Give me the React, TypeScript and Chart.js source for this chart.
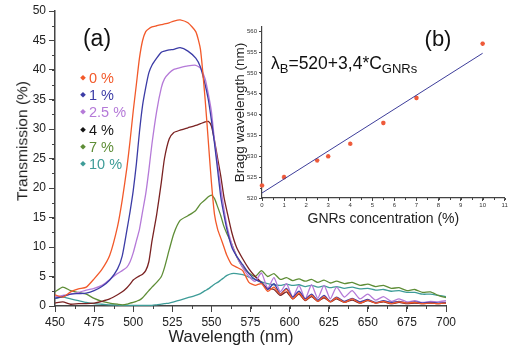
import React, { useEffect, useRef } from "react";
import { Chart, registerables } from "chart.js";

Chart.register(...registerables);

// ---------- data (main panel a) ----------
const wavelength = [450,455,460,465,470,475,480,485,490,493,496,498,500,502,504,506,508,510,512,515,518,520,523,526,530,535,540,543,546,548,550,552,554,556,558,560,563,566,570,574,578,582,586,590,594,598,602,606,610,614,618,622,626,630,635,640,645,650,655,660,665,670,675,680,685,690,695,700];

const t0 = [1.9,1.5,2.4,2.9,3.2,4.6,6.2,8.6,13.5, 18,23.5,28,33,37.5,42,45,46.5,47,47.3, 47.5,47.7,47.8,48,48.3,48.5,48,46.5, 43.5,35,28,21,15.5,13,11.5,10,8.5, 7,6.6,6, 4,3.5,3.8,2.5,3.2,2,2.8,1.2,2.2,1,1.8,0.8,1.6,0.7,1.4, 0.6,1.2,0.5,1,0.5,0.8,0.4,0.7,0.5,0.6,0.4,0.5,0.4,0.5];
const t1 = [1.3,1.6,2.0,2.1,2.2,2.6,3.3,4.4,6.3, 8.5,12.9,16,19.5,24,29.5,34,37,39.5,40.8, 42,43,43.2,43.4,43.5,43.8,43.2,42, 40.5,37.5,35,31.5,27.5,23,18.5,15.5,12.9, 10,8.5,7, 5.5,4.5,4,2.8,3.8,2,3,1.5,2.5,1.2,2,1,1.8,0.8,1.5, 0.8,1.3,0.7,1.1,0.6,0.9,0.6,0.8,0.5,0.7,0.5,0.6,0.5,0.6];
const t25 = [1.5,1.8,2.0,2.3,2.7,3.0,3.5,4.5,5.5, 6.0,6.6,7.5,9,11,13,16,19,23,27.5, 33,37,38.5,39.5,40.1,40.4,40.7,40.8, 40.3,38.5,36,33,28,24,20,16.5,13.5, 10.5,8.5,6.5, 5,4.2,5.6,3,4.8,2.4,3.8,1.5,3.5,1.2,3.6,1.3,3.5,1.2,3.2, 1.5,2.6,1.2,2,1,1.6,0.8,1.2,0.7,0.9,0.6,0.8,0.7,0.9];
const t4 = [0.5,0.7,0.3,0.4,0.4,0.5,0.8,1.2,1.9, 2.4,3.1,3.7,4.4,4.8,5.1,5.4,6.0,7.5,11, 15.5,21,25,28.3,29.4,29.8,30.2,30.6, 30.9,31.2,31.3,30.5,28,25,22,18.5,16, 12.5,10,8, 6.3,5,4,3,2.8,1.8,2.4,1.2,2,0.9,1.6,0.8,1.4,0.7,1.2, 0.6,1,0.5,0.9,0.5,0.7,0.4,0.6,0.4,0.5,0.4,0.5,0.4,0.5];
const t7 = [2.4,3.2,2.6,2.3,2.0,1.3,0.8,0.5,0.3, 0.2,0.3,0.5,0.6,0.8,1.0,1.4,2.0,2.6,3.2, 4.0,5.0,6.5,9.5,12.3,14.5,15.3,16.2, 17.3,18,18.5,18.8,18.2,16.8,15.3,13.5,12.2, 10.5,8.5,6.6, 5.6,5.0,6.0,5.0,5.5,4.5,4.8,4.3,4.6,4.2,4.5,4.0,4.4,3.9,4.2, 3.8,4,3.5,3.7,3.3,3.5,3.0,3.1,2.6,2.8,2.3,2.4,1.8,1.4];
const t10 = [1.3,1.5,1.2,0.9,0.6,0.4,0.3,0.2,0.15, 0.1,0.1,0.1,0.1,0.1,0.1,0.1,0.1,0.1,0.1, 0.2,0.3,0.4,0.5,0.7,1.0,1.4,1.8, 2.1,2.6,2.9,3.3,3.7,4.0,4.4,4.8,5.2, 5.5,5.5,5.3, 4.9,4.5,4.1,3.8,3.6,3.5,3.7,3.5,3.6,3.3,3.5,3.2,3.4,3.1,3.3, 3.0,3.2,2.9,3.0,2.7,2.8,2.5,2.6,2.3,2.3,2.0,2.0,1.8,1.6];

const seriesLabels = ["0 %", "1 %", "2.5 %", "4 %", "7 %", "10 %"];
const seriesValues = [t0, t1, t25, t4, t7, t10];
const lineColors = ["#f2592a", "#3c3ca6", "#b57ad8", "#7a2222", "#5e8d36", "#3e9c98"];
const legendColors = ["#f2592a", "#3c3ca6", "#b57ad8", "#151515", "#5e8d36", "#3e9c98"];

// ---------- data (inset panel b) ----------
const concentration = [0, 1, 2.5, 3, 4, 5.5, 7, 10];
const braggWavelength = [523, 525, 529, 530, 533, 538, 544, 557];
const fitX = [0, 10];
const fitY = [521.2, 554.7];
const insetYTicks = [520, 525, 530, 535, 540, 545, 550, 555, 560];

const FONT = "'Liberation Sans', Arial, Helvetica, sans-serif";

const minorTicks = {
  id: "minorTicks",
  afterDraw(chart: any, _args: any, opts: any) {
    const ctx = chart.ctx;
    const cfgs = (opts && opts.scales) || {};
    for (const id of Object.keys(cfgs)) {
      const cfg = cfgs[id];
      const s = chart.scales[id];
      if (!s) continue;
      ctx.save();
      ctx.strokeStyle = cfg.color;
      ctx.lineWidth = cfg.width;
      ctx.beginPath();
      for (let v = s.min; v <= s.max + 1e-9; v += cfg.step) {
        const p = Math.round(s.getPixelForValue(v)) + 0.5;
        if (s.isHorizontal()) {
          ctx.moveTo(p, s.top);
          ctx.lineTo(p, s.top + cfg.len);
        } else {
          ctx.moveTo(s.right, p);
          ctx.lineTo(s.right - cfg.len, p);
        }
      }
      ctx.stroke();
      ctx.restore();
    }
  },
};

function MainChart() {
  const ref = useRef<HTMLCanvasElement | null>(null);
  useEffect(() => {
    const datasets = seriesValues.map((vals, k) => ({
      label: seriesLabels[k],
      data: wavelength.map((x, i) => ({ x, y: vals[i] })),
      borderColor: lineColors[k],
      backgroundColor: lineColors[k],
      borderWidth: 1.3,
      pointRadius: 0,
      tension: 0.2,
      fill: false,
    }));
    const chart = new Chart(ref.current as HTMLCanvasElement, {
      type: "line",
      data: { datasets },
      plugins: [minorTicks],
      options: {
        animation: false,
        responsive: false,
        layout: { padding: { left: 0, top: 11, right: 64, bottom: 0 } },
        plugins: {
          legend: { display: false },
          tooltip: { enabled: false },
          minorTicks: {
            scales: {
              x: { step: 12.5, len: 3, color: "#444", width: 1 },
              y: { step: 2.5, len: 3, color: "#444", width: 1 },
            },
          },
        } as any,
        scales: {
          x: {
            type: "linear",
            min: 450,
            max: 700,
            afterFit: (s: any) => { s.height = 41; },
            ticks: { stepSize: 25, color: "#222", font: { family: FONT, size: 12 }, padding: 3, maxRotation: 0 },
            grid: { display: true, drawOnChartArea: false, drawTicks: true, tickLength: 6, color: "#444", lineWidth: 1 },
            border: { display: true, color: "#444", width: 1.5 },
          },
          y: {
            type: "linear",
            min: 0,
            max: 50,
            afterFit: (s: any) => { s.width = 55; },
            ticks: { stepSize: 5, color: "#222", font: { family: FONT, size: 12 }, padding: 3 },
            grid: { display: true, drawOnChartArea: false, drawTicks: true, tickLength: 6, color: "#444", lineWidth: 1 },
            border: { display: true, color: "#444", width: 1.5 },
          },
        },
      },
    });
    return () => chart.destroy();
  }, []);
  return <canvas ref={ref} width={510} height={347} style={{ position: "absolute", left: 0, top: 0, width: 510, height: 347 }} />;
}

function InsetChart() {
  const ref = useRef<HTMLCanvasElement | null>(null);
  useEffect(() => {
    const chart = new Chart(ref.current as HTMLCanvasElement, {
      type: "scatter",
      data: {
        datasets: [
          {
            label: "Fit",
            type: "line",
            data: fitX.map((x, i) => ({ x, y: fitY[i] })),
            borderColor: "#3d3d9a",
            borderWidth: 1,
            pointRadius: 0,
            fill: false,
          } as any,
          {
            label: "Bragg wavelength",
            data: concentration.map((x, i) => ({ x, y: braggWavelength[i] })),
            pointStyle: "star",
            pointRadius: 2.3,
            borderColor: "#ee5a3a",
            backgroundColor: "#ee5a3a",
            borderWidth: 1.3,
            clip: false,
          } as any,
        ],
      },
      plugins: [minorTicks],
      options: {
        animation: false,
        responsive: false,
        layout: { padding: { left: 0, top: 15, right: 5, bottom: 0 } },
        plugins: {
          legend: { display: false },
          tooltip: { enabled: false },
          minorTicks: {
            scales: {
              x: { step: 0.5, len: 2, color: "#444", width: 1 },
              y: { step: 2.5, len: 2, color: "#444", width: 1 },
            },
          },
        } as any,
        scales: {
          x: {
            type: "linear",
            min: 0,
            max: 11,
            afterFit: (s: any) => { s.height = 39; },
            ticks: { stepSize: 1, color: "#333", font: { family: FONT, size: 6 }, padding: 1, maxRotation: 0 },
            grid: { display: true, drawOnChartArea: false, drawTicks: true, tickLength: 3, color: "#444", lineWidth: 1 },
            border: { display: true, color: "#444", width: 1.2 },
            title: { display: true, text: "GNRs concentration (%)", color: "#222", font: { family: FONT, size: 14 }, padding: { top: 0, bottom: 9 } },
          },
          y: {
            type: "linear",
            min: 520,
            max: 561,
            afterBuildTicks: (s: any) => { s.ticks = insetYTicks.map((v) => ({ value: v })); },
            afterFit: (s: any) => { s.width = 37; },
            ticks: { color: "#333", font: { family: FONT, size: 6 }, padding: 2 },
            grid: { display: true, drawOnChartArea: false, drawTicks: true, tickLength: 3, color: "#444", lineWidth: 1 },
            border: { display: true, color: "#444", width: 1.2 },
            title: { display: true, text: "Bragg wavelength (nm)", color: "#222", font: { family: FONT, size: 13.5 }, padding: { top: 7, bottom: 0 } },
          },
        },
      },
    });
    return () => chart.destroy();
  }, []);
  return <canvas ref={ref} width={285} height={225} style={{ position: "absolute", left: 225, top: 12, width: 285, height: 225 }} />;
}

export default function App() {
  const legendTops = [78, 95, 112, 130, 147, 164];
  return (
    <div style={{ position: "fixed", left: 0, top: 0, width: 510, height: 347, background: "#fff", overflow: "hidden", fontFamily: FONT }}>
      <MainChart />
      <InsetChart />
      <div style={{ position: "absolute", left: 22, top: 141, transform: "translate(-50%, -50%) rotate(-90deg)", whiteSpace: "nowrap", fontSize: 15.5, color: "#222", lineHeight: 1 }}>
        Transmission (%)
      </div>
      <div style={{ position: "absolute", left: 231, top: 336, transform: "translate(-50%, -50%)", whiteSpace: "nowrap", fontSize: 16.5, color: "#222", lineHeight: 1 }}>
        Wavelength (nm)
      </div>
      <div style={{ position: "absolute", left: 97, top: 38, transform: "translate(-50%, -50%)", fontSize: 23, color: "#111", lineHeight: 1 }}>(a)</div>
      <div style={{ position: "absolute", left: 438, top: 39, transform: "translate(-50%, -50%)", fontSize: 22, color: "#111", lineHeight: 1 }}>(b)</div>
      <div style={{ position: "absolute", left: 271, top: 65, transform: "translate(0, -50%)", fontSize: 17.5, color: "#111", lineHeight: 1, whiteSpace: "nowrap" }}>
        λ<sub style={{ fontSize: 13, verticalAlign: "-0.25em" }}>B</sub>=520+3,4*C<sub style={{ fontSize: 13, verticalAlign: "-0.25em" }}>GNRs</sub>
      </div>
      {seriesLabels.map((lab, k) => (
        <div key={lab} style={{ position: "absolute", left: 81, top: legendTops[k], transform: "translate(0, -50%)", display: "flex", alignItems: "center", whiteSpace: "nowrap", lineHeight: 1 }}>
          <span style={{ display: "inline-block", width: 4, height: 4, background: legendColors[k], transform: "rotate(45deg)", marginRight: 4 }} />
          <span style={{ fontSize: 14.5, color: legendColors[k] }}>{lab}</span>
        </div>
      ))}
    </div>
  );
}
